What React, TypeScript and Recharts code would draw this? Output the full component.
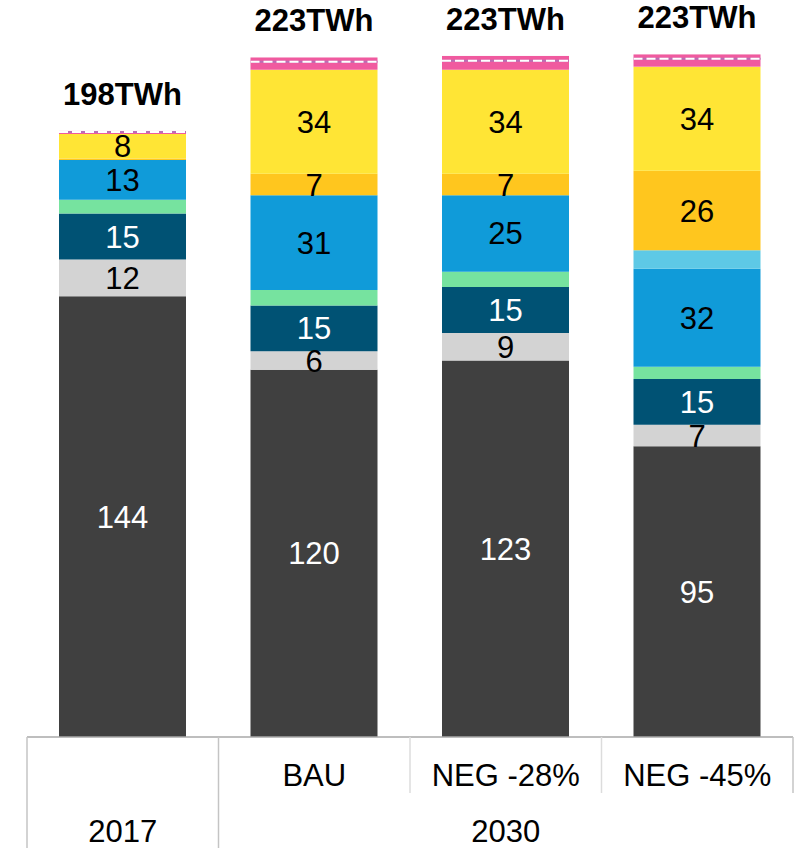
import React from 'react';
import { BarChart, Bar, XAxis, YAxis, LabelList } from 'recharts';

// scenarios and the year group each belongs to
const scenarios = ['', 'BAU', 'NEG -28%', 'NEG -45%'];
const years = ['2017', '2030', '2030', '2030'];

// generation by source, TWh
const coal = [144, 120, 123, 95];
const gas = [12, 6, 9, 7];
const nuclear = [15, 15, 15, 15];
const bio = [4.5, 5, 5, 4];
const wind = [13, 31, 25, 32];
const windOffshore = [0, 0, 0, 6];
const hydro = [0.5, 7, 7, 26];
const solar = [8, 34, 34, 34];
const other = [1, 4, 4.5, 4];
const totals = [198, 223, 223, 223];

const CHART_W = 801;
const CHART_H = 848;
const MARGIN = { top: 33, right: 8, left: 27, bottom: 0 };
const AXIS_H = 111;
const PLOT_BOTTOM = CHART_H - AXIS_H;
const BAND = (CHART_W - MARGIN.left - MARGIN.right) / scenarios.length;
const FONT = '"Liberation Sans", Arial, sans-serif';
const FONT_SIZE = 31;

const data = scenarios.map((s, i) => ({
  key: `${years[i]} ${s}`,
  coal: coal[i],
  gas: gas[i],
  nuclear: nuclear[i],
  bio: bio[i],
  wind: wind[i],
  windOffshore: windOffshore[i],
  hydro: hydro[i],
  solar: solar[i],
  other: other[i],
  total: totals[i],
}));

const series = [
  { key: 'coal', color: '#404040', text: '#ffffff', label: true },
  { key: 'gas', color: '#d3d3d3', text: '#000000', label: true },
  { key: 'nuclear', color: '#005274', text: '#ffffff', label: true },
  { key: 'bio', color: '#76e39f', text: '#000000', label: false },
  { key: 'wind', color: '#109bd9', text: '#000000', label: true },
  { key: 'windOffshore', color: '#5ec9e6', text: '#000000', label: false },
  { key: 'hydro', color: '#ffc61e', text: '#000000', label: true },
  { key: 'solar', color: '#ffe535', text: '#000000', label: true },
];

const makeValueLabel = (fill: string) => (props: any) => {
  const { x, y, width, height, value } = props;
  if (value == null || value < 2) return null;
  return (
    <text
      x={x + width / 2}
      y={y + height / 2 + 11}
      textAnchor="middle"
      fontFamily={FONT}
      fontSize={FONT_SIZE}
      fill={fill}
    >
      {Math.round(value)}
    </text>
  );
};

const TotalLabel = (props: any) => {
  const { x, y, width, value } = props;
  return (
    <text
      x={x + width / 2}
      y={y - 26}
      textAnchor="middle"
      fontFamily={FONT}
      fontSize={FONT_SIZE}
      fontWeight="bold"
      fill="#000000"
    >
      {`${value}TWh`}
    </text>
  );
};

// pink top segment with a dashed white rule through it
const OtherShape = (props: any) => {
  const { x, y, width, height } = props;
  if (!height || height <= 0) return null;
  const mid = y + height * 0.35;
  return (
    <g>
      <rect x={x} y={y} width={width} height={height} fill="#f05a9f" />
      <line x1={x} x2={x + width} y1={mid} y2={mid} stroke="#b86fb5" strokeWidth={2} />
      <line
        x1={x}
        x2={x + width}
        y1={mid}
        y2={mid}
        stroke="#ffffff"
        strokeWidth={2}
        strokeDasharray="9 4"
      />
    </g>
  );
};

const CategoryTick = (props: any) => {
  const { x, index } = props;
  const left = x - BAND / 2;
  const right = x + BAND / 2;
  const newGroup = index === 0 || years[index] !== years[index - 1];
  const lineColor = '#c4c4c4';
  let groupLabel = null;
  if (newGroup) {
    let end = index;
    while (end + 1 < years.length && years[end + 1] === years[index]) end++;
    const cx = x + ((end - index) / 2) * BAND;
    groupLabel = (
      <text x={cx} y={PLOT_BOTTOM + 105} textAnchor="middle" fontFamily={FONT} fontSize={FONT_SIZE} fill="#000">
        {years[index]}
      </text>
    );
  }
  return (
    <g>
      <line
        x1={left}
        x2={left}
        y1={PLOT_BOTTOM}
        y2={newGroup ? CHART_H : PLOT_BOTTOM + 56}
        stroke={newGroup ? lineColor : '#dcdcdc'}
        strokeWidth={1.5}
      />
      {index === years.length - 1 && (
        <line x1={right} x2={right} y1={PLOT_BOTTOM} y2={PLOT_BOTTOM + 56} stroke={lineColor} strokeWidth={1.5} />
      )}
      <text x={x} y={PLOT_BOTTOM + 49} textAnchor="middle" fontFamily={FONT} fontSize={FONT_SIZE} fill="#000">
        {scenarios[index]}
      </text>
      {groupLabel}
    </g>
  );
};

export default function App() {
  return (
    <div style={{ position: 'absolute', left: 0, top: 0, width: CHART_W, height: CHART_H, overflow: 'hidden', background: '#fff' }}>
      <BarChart width={CHART_W} height={CHART_H} data={data} margin={MARGIN} barSize={127}>
        <XAxis
          dataKey="key"
          height={AXIS_H}
          tickLine={false}
          axisLine={{ stroke: '#a8a8a8', strokeWidth: 1.5 }}
          tick={(p: any) => <CategoryTick {...p} />}
          interval={0}
        />
        <YAxis hide domain={[0, 230]} />
        {series.map((s) => (
          <Bar key={s.key} dataKey={s.key} stackId="a" fill={s.color} isAnimationActive={false}>
            {s.label && <LabelList dataKey={s.key} content={makeValueLabel(s.text)} />}
          </Bar>
        ))}
        <Bar dataKey="other" stackId="a" fill="#f05a9f" shape={(p: any) => <OtherShape {...p} />} isAnimationActive={false}>
          <LabelList dataKey="total" content={(p: any) => <TotalLabel {...p} />} />
        </Bar>
      </BarChart>
    </div>
  );
}
